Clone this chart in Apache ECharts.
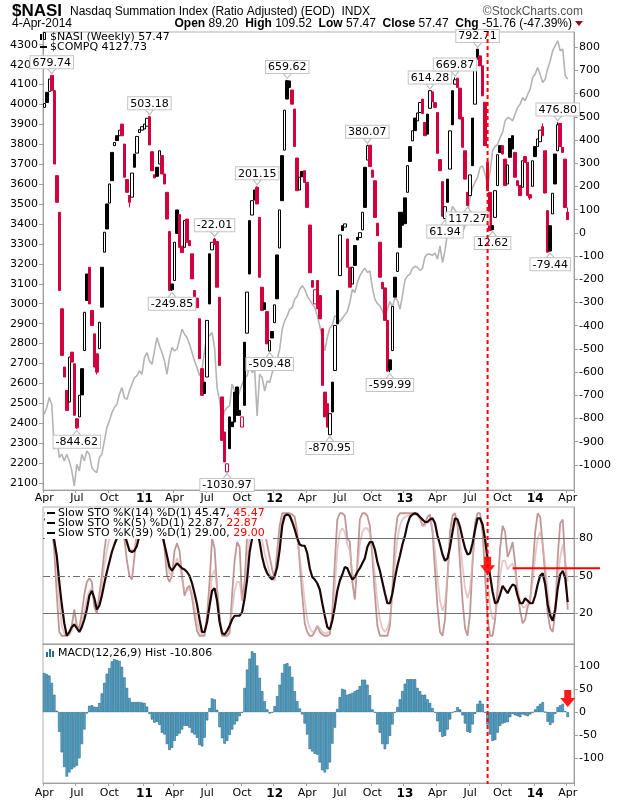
<!DOCTYPE html>
<html><head><meta charset="utf-8">
<script src="https://cdn.jsdelivr.net/npm/echarts@6/dist/echarts.min.js"></script>
<style>html,body{margin:0;padding:0;background:#fff}#c{width:620px;height:800px}</style>
</head><body><div id="c"></div>
<script>
// ---------- DATA ----------
const startDate = '2010-04-02'; // first weekly bar (Fri)
const padWeeks = 2;            // empty slots at right edge
const opens = [541,606,610,679,613,247,89,-327,-578,-679,
-729,-514,-564,-801,-793,-585,-507,-177,-148,-334,
-435,-521,-499,-148,-83,125,129,347,376,419,
419,469,383,230,161,154,340,344,433,443,
448,460,501,350,251,283,297,333,254,175,
6,-220,-205,99,79,-57,-62,60,-33,-90,
-248,-281,-370,-585,-643,-621,-90,-73,-26,-37,
-277,-707,-858,-1030,-793,-815,-686,-664,-765,-837,
-471,-432,53,77,185,197,67,-234,-301,-339,
-509,-425,-387,-95,-65,333,357,656,655,616,
534,323,185,265,268,218,34,-205,-306,-205,
-270,-413,-686,-736,-870,-643,-593,-248,-184,31,
25,-26,-148,-220,-54,-19,-20,13,283,314,
378,271,225,42,-40,-213,-237,-377,-547,-507,
-191,-166,89,89,151,175,372,397,495,483,
519,577,476,512,537,608,562,519,316,221,
62,232,275,613,641,667,624,498,354,175,
161,495,555,792,763,720,563,304,175,32,
67,204,376,376,318,211,407,419,347,225,
204,197,329,304,165,201,372,372,393,458,
354,96,31,82,340,354,472,369,318,89.20];
const closes = [558,562,663,613,297,132,-248,-528,-621,-765,
-535,-557,-786,-840,-700,-698,-342,-291,-306,-399,
-578,-600,-385,-320,3,17,211,225,390,398,
443,419,240,175,132,258,283,416,445,458,
469,494,379,268,237,244,354,254,211,60,
-248,-245,-40,-2,-62,-85,53,-40,-55,-198,
-320,-322,-542,-700,-692,-377,-306,-40,-50,-234,
-571,-894,-987,-995,-930,-835,-815,-786,-786,-793,
-743,-255,-177,139,142,125,-191,-334,-330,-478,
-464,-453,-310,-284,99,139,529,577,627,555,
372,182,240,242,218,110,-172,-234,-245,-327,
-370,-657,-793,-837,-779,-772,-399,-392,-9,10,
39,-148,-234,-148,-140,-30,1,89,110,376,
286,240,67,-12,-191,-241,-377,-596,-590,-317,
-277,-86,-62,33,40,290,308,440,441,517,
562,515,419,426,613,565,541,343,268,72,
113,132,440,466,660,627,491,369,232,118,
250,290,716,749,720,591,376,182,10,14,
182,337,347,340,204,293,326,362,240,204,
161,311,304,161,150,311,329,405,443,419,
172,-83,-78,171,211,466,372,347,109.23,57.47];
const lows = [541,562,610,613,297,132,-248,-528,-621,-765,
-729,-557,-786,-844.62,-793,-698,-507,-291,-306,-399,
-578,-610,-499,-320,-83,17,129,225,376,398,
419,419,240,175,110,154,283,344,433,443,
448,460,379,268,237,244,297,254,211,60,
-248,-249.85,-205,-2,-62,-85,-62,-40,-55,-198,
-320,-322,-542,-700,-692,-621,-306,-73,-50,-234,
-571,-894,-987,-1030.97,-930,-835,-815,-786,-786,-837,
-743,-432,-177,77,142,125,-191,-334,-330,-478,
-509.48,-453,-387,-284,-65,139,357,577,627,555,
372,182,185,242,218,110,-172,-234,-306,-327,
-370,-657,-793,-837,-870.95,-772,-593,-392,-184,10,
25,-148,-234,-220,-140,-30,-20,13,110,314,
286,240,67,-12,-191,-241,-377,-596,-599.99,-507,
-277,-166,-62,33,40,175,308,397,441,483,
519,515,419,426,537,565,541,343,268,72,
61.94,132,275,466,641,627,491,369,232,117.27,
161,290,555,749,720,591,376,182,10,12.62,
67,204,347,340,204,211,326,362,240,204,
161,197,304,161,142,201,329,372,393,419,
172,-83,-79.44,82,211,354,372,347,109.23,57.47];
const highs = [558,606,663,679.74,613,247,89,-327,-578,-679,
-535,-514,-564,-801,-700,-585,-342,-177,-148,-334,
-435,-521,-385,-148,3,125,211,347,390,419,
443,469,383,230,161,258,340,416,445,458,
469,494,503.18,350,251,283,354,333,254,175,
6,-220,-40,99,79,-57,53,60,-33,-90,
-248,-281,-370,-585,-643,-377,-90,-40,-22.01,-37,
-277,-707,-858,-995,-793,-815,-686,-664,-765,-793,
-471,-255,53,139,185,201.15,67,-234,-301,-339,
-464,-425,-310,-95,99,333,529,659.62,655,616,
534,323,240,265,268,218,34,-205,-245,-205,
-270,-413,-686,-736,-779,-643,-399,-248,-9,31,
39,-26,-148,-148,-54,-19,1,89,283,380.07,
378,271,225,42,-40,-213,-237,-377,-547,-317,
-191,-86,89,89,151,290,372,440,495,517,
562,577,476,512,614.28,608,562,519,316,221,
113,232,440,613,669.87,667,624,498,354,175,
250,495,716,792.71,763,720,563,304,175,32,
182,337,376,376,318,293,407,419,347,225,
204,311,329,304,165,311,372,405,443,472,
354,96,31,171,340,476.80,472,369,318,109.52];
const compq = [2445,2479,2529,2495,2269,2328,2228,2244,2211,2244,
2211,2161,2085,2194,2161,2244,2211,2261,2244,2177,
2161,2152,2228,2244,2311,2378,2412,2453,2479,2495,
2546,2579,2529,2520,2562,2596,2629,2638,2663,2646,
2730,2755,2713,2696,2763,2830,2788,2755,2713,2646,
2730,2780,2763,2772,2822,2872,2847,2830,2797,2755,
2713,2680,2638,2671,2763,2847,2839,2855,2780,2579,
2512,2412,2462,2479,2487,2596,2562,2520,2562,2596,
2629,2638,2688,2654,2671,2437,2646,2629,2562,2613,
2604,2654,2683,2721,2772,2872,2914,2939,2972,2981,
3023,3039,3073,3090,3073,3039,3018,2998,2981,2939,
2889,2830,2763,2830,2877,2894,2939,2934,2909,2927,
2944,2961,3006,3073,3056,3106,3140,3162,3178,3157,
3165,3081,3023,3001,2989,2964,2934,2972,3011,2984,
3028,3018,2972,3039,3118,3140,3148,3177,3188,3182,
3168,3178,3235,3249,3249,3242,3255,3224,3290,3207,
3265,3357,3441,3488,3470,3450,3408,3357,3391,3450,
3533,3583,3610,3634,3684,3692,3650,3600,3659,3768,
3790,3801,3835,3860,3918,3935,3930,3918,3952,3985,
4002,4035,4019,4050,4077,4136,4153,4186,4150,4111,
4127,4180,4220,4270,4295,4320,4270,4278,4144,4127.73];
const stoK39 = [95,95,92,87,78,66,45,27,12,2,
5,9,11,8,5,9,15,23,34,38,
32,23,26,34,44,53,61,69,75,80,
85,87,83,77,70,69,70,74,82,88,
92,94,95,95,94,92,90,84,75,66,
57,54,57,60,58,56,55,53,50,44,
36,27,15,5,5,13,26,38,40,30,
13,4,3,6,10,15,18,18,18,21,
32,47,69,80,85,85,77,65,57,52,
49,47,50,57,71,90,98,99,98,93,
87,80,75,74,74,68,56,49,47,44,
39,28,18,9,7,14,25,38,46,51,
57,56,51,47,49,53,56,60,64,73,
77,77,71,61,54,45,36,28,28,36,
48,58,66,75,82,91,97,99,100,99,
97,95,93,93,95,96,92,82,75,67,
62,64,73,85,96,95,89,80,72,67,
68,76,87,96,96,91,79,64,50,37,
28,29,35,42,39,36,40,43,42,34,
28,28,32,30,28,28,34,43,50,52,
43,27,18,14,23,40,51,54,48,29];
const stoK14 = [98,98,96,92,80,60,30,10,4,2,
3,6,12,8,6,12,22,32,38,40,
30,24,30,42,58,70,80,88,92,95,
96,94,85,75,72,70,72,82,92,96,
98,98,98,98,97,95,92,86,75,62,
52,50,58,64,60,48,38,38,40,36,
25,14,6,3,4,15,32,50,55,40,
18,5,3,4,8,22,38,45,45,30,
38,62,82,92,94,93,88,78,68,60,
52,48,46,60,80,94,98,99,98,95,
90,80,65,48,30,15,8,5,6,10,
8,5,4,4,6,15,40,70,85,88,
85,75,70,52,45,55,75,85,88,88,
84,70,50,30,15,8,5,8,15,35,
60,80,90,95,97,98,99,99,99,98,
95,90,90,93,95,88,70,48,30,22,
28,50,75,90,96,92,78,58,40,32,
40,62,85,95,96,88,70,45,25,15,
18,30,50,62,62,55,58,60,52,40,
30,25,25,28,32,45,65,80,85,75,
58,38,22,15,22,45,65,75,62,45.47];
const stoK5 = [100,100,95,90,70,35,5,2,2,2,
3,10,23,10,8,20,35,45,48,45,
25,20,35,50,70,85,95,99,100,100,
100,95,80,62,50,47,65,88,98,100,
100,100,100,100,99,97,95,88,72,50,
45,50,70,76,70,50,34,40,42,33,
18,6,2,2,2,18,45,80,72,40,
15,2,2,2,4,35,62,77,73,30,
45,82,98,100,100,100,98,95,85,75,
65,55,47,70,90,100,100,100,100,99,
97,85,60,35,12,5,2,2,5,10,
5,3,2,2,3,20,60,95,100,100,
98,80,77,45,31,60,95,100,100,98,
90,65,35,10,2,2,2,2,10,40,
80,97,100,100,100,100,100,100,100,100,
97,90,92,97,99,85,55,25,5,2,
15,50,85,98,100,90,60,30,8,2,
20,60,92,100,100,85,50,15,2,2,
15,40,72,90,85,65,70,77,60,35,
22,12,15,25,30,55,85,100,97,75,
50,20,8,5,20,65,92,95,60,22.87];
const macdHist = [85.5,83,80,64,38,3,-43,-88,-120,-141,
-132,-125,-121,-117,-101,-70,-38,-3,14,15,
12,11,20,41,64,84,96,111,116,114,
112,99,76,53,31,22,22,22,22,21,
20,12,-4,-16,-23,-21,-28,-45,-49,-70,
-83,-78,-63,-52,-47,-38,-30,-30,-34,-45,
-49,-56,-72,-75,-56,-18,9,30,28,5,
-33,-57,-69,-63,-50,-38,-27,-20,-9,-1,
53,93,117,133,129,102,75,46,24,6,
-3,-1,13,35,60,86,105,107,100,77,
46,24,8,-5,-25,-49,-81,-86,-91,-93,
-110,-127,-132,-125,-110,-69,-34,7,33,51,
49,38,40,42,46,49,57,71,71,60,
37,6,-1,-27,-45,-70,-81,-70,-52,-27,
-1,11,28,46,62,72,72,72,72,53,
46,38,38,28,20,9,-1,-20,-43,-54,
-52,-38,-16,-1,2,11,6,-7,-25,-43,
-45,-27,-4,18,25,18,-1,-27,-49,-63,
-61,-45,-30,-25,-23,-22,-11,-4,-7,-9,
-11,-5,-7,-9,-5,-1,6,13,18,22,
0,-21,-28,-23,-4,11,15,18,2,-10.806];
// annotated highs / lows: [bar index, value, side]
const peakIdx  = [3,13,42,51,68,73,85,90,97,114,129,138,154,160,164,169,173,179,202,205];
const peakVal  = [679.74,-844.62,503.18,-249.85,-22.01,-1030.97,201.15,-509.48,659.62,-870.95,380.07,-599.99,614.28,61.94,669.87,117.27,792.71,12.62,-79.44,476.80];
const peakSide = ['h','l','h','l','h','l','h','l','h','l','h','l','h','l','h','l','h','l','l','h'];
const leftTicks  = [2100,2200,2300,2400,2500,2600,2700,2800,2900,3000,3100,3200,3300,3400,3500,3600,3700,3800,3900,4000,4100,4200,4300];
const rightTicks = [-1000,-900,-800,-700,-600,-500,-400,-300,-200,-100,0,100,200,300,400,500,600,700,800];
const stoTicks = [20,50,80];
const macdTicks = [-100,-50,0,50,100];
const markerIdx = 177;       // vertical dashed marker
const stoArrow = [177, 58];
const macdArrow = [209, 30];
const stoRedLine = {from:187, value:56};
const monthNames = ['Jan','Feb','Mar','Apr','May','Jun','Jul','Aug','Sep','Oct','Nov','Dec'];

// ---------- BUILD ----------
const cats = [];
(function(){ const d0 = Date.parse(startDate+'T00:00:00Z');
  for (let i=0;i<closes.length+padWeeks;i++){ cats.push(new Date(d0+i*7*864e5).toISOString().slice(0,10)); } })();
function mon(i){ return +cats[i].slice(5,7)-1; }
function isQ(i){ if(i>=cats.length) return false; const m=mon(i); if(m%3!==0) return false; if(i===0) return true; return mon(i-1)!==m; }
function fmtX(val){ const m=+val.slice(5,7)-1; if(m===0) return '{y|'+val.slice(2,4)+'}'; return monthNames[m]; }

const RED = '#d2003c';
const FONT = 'DejaVu Sans';
const candleData = opens.map((o,i)=>{
  const c = closes[i]; const up = i===0 || c >= closes[i-1];
  const col = up ? '#000' : RED; const fill = c > o ? '#fff' : col;
  return {value:[o,c,lows[i],highs[i]], itemStyle:{color:fill,color0:fill,borderColor:col,borderColor0:col}};
});
const peakData = peakIdx.map((ix,k)=>{
  const hi = peakSide[k]==='h';
  return {coord:[ix, peakVal[k]], value:peakVal[k],
    symbol:'triangle', symbolSize:[8,5], symbolRotate: hi?180:0, symbolOffset:[0, hi?-4:4],
    itemStyle:{color:'#fff', borderColor:'#bdbdbd', borderWidth:1},
    label:{show:true, position: hi?'top':'bottom', distance:0, formatter: peakVal[k].toFixed(2),
      color:'#000', fontSize:11, fontFamily:FONT, backgroundColor:'#fff', borderColor:'#c4c4c4', borderWidth:1, padding:[1,2,0,2]}};
});

function xAxisCfg(g, show, margin){ return {type:'category', gridIndex:g, data:cats, boundaryGap:true,
  axisLine:{show:true, onZero:false, lineStyle:{color:'#a0a0a0'}},
  axisTick:{show:show, interval:(i)=>isQ(i), length:3, lineStyle:{color:'#a0a0a0'}},
  axisLabel:{show:show, interval:(i)=>isQ(i), formatter:fmtX, color:'#000', fontSize:11, fontFamily:FONT, margin:margin,
    rich:{y:{fontWeight:'bold', fontSize:12, fontFamily:FONT, color:'#000'}}},
  splitLine:{show:false}}; }
function yAxisCfg(g, pos, min, max, ticks){ return {type:'value', gridIndex:g, position:pos, min:min, max:max, scale:true,
  axisLine:{show:true, onZero:false, lineStyle:{color:'#a0a0a0'}},
  axisTick:{show:true, length:4, customValues:ticks, lineStyle:{color:'#a0a0a0'}},
  axisLabel:{show:true, customValues:ticks, formatter:(v)=>String(v), color:'#000', fontSize:11, fontFamily:FONT, margin:5},
  splitLine:{show:false}}; }

const ARROW = 'path://M4,0L11,0L11,8L15,8L7.5,17L0,8L4,8Z';
const option = {
  animation:false, backgroundColor:'#fff',
  grid:[
    {left:43, right:46, top:32, height:458, show:true, borderColor:'#b0b0b0', borderWidth:1},
    {left:43, right:46, top:507, height:137, show:true, borderColor:'#b0b0b0', borderWidth:1},
    {left:43, right:46, top:644, height:140, show:true, borderColor:'#b0b0b0', borderWidth:1}
  ],
  xAxis:[ xAxisCfg(0,true,3), xAxisCfg(1,false,3), xAxisCfg(2,true,5) ],
  yAxis:[
    yAxisCfg(0,'left',2065,4364,leftTicks),
    yAxisCfg(0,'right',-1108,866,rightTicks),
    yAxisCfg(1,'right',-4.6,105,stoTicks),
    yAxisCfg(2,'right',-155,149,macdTicks)
  ],
  series:[
    {type:'line', name:'$COMPQ', xAxisIndex:0, yAxisIndex:0, data:compq, symbol:'none', z:1,
      lineStyle:{color:'#b4b4b4', width:1.6}},
    {type:'candlestick', name:'$NASI', xAxisIndex:0, yAxisIndex:1, data:candleData, barWidth:3, z:3,
      itemStyle:{borderWidth:1},
      markPoint:{data:peakData, silent:true, z:5}},
    {type:'line', name:'K5', xAxisIndex:1, yAxisIndex:2, data:stoK5, symbol:'none', z:2,
      lineStyle:{color:'rgba(150,80,80,0.6)', width:1.8},
      markLine:{silent:true, symbol:'none', label:{show:false},
        data:[{yAxis:80, lineStyle:{color:'#707070', width:1, type:'solid'}},
              {yAxis:20, lineStyle:{color:'#707070', width:1, type:'solid'}},
              {yAxis:50, lineStyle:{color:'#707070', width:1, type:[7,3,2,3]}}]}},
    {type:'line', name:'K14', xAxisIndex:1, yAxisIndex:2, data:stoK14, symbol:'none', z:3,
      lineStyle:{color:'rgba(220,175,175,0.7)', width:1.8}},
    {type:'line', name:'K39', xAxisIndex:1, yAxisIndex:2, data:stoK39, symbol:'none', z:4,
      lineStyle:{color:'#1c0606', width:2.2},
      markPoint:{silent:true, data:[{coord:stoArrow, symbol:ARROW, symbolSize:[15,18], itemStyle:{color:'#ff1a1a'}, label:{show:false}}]}},
    {type:'bar', name:'MACD Hist', xAxisIndex:2, yAxisIndex:3, data:macdHist, barCategoryGap:'0%', z:2,
      itemStyle:{color:'#5aaad0', borderColor:'#1e5f7e', borderWidth:0.6},
      markPoint:{silent:true, data:[{coord:macdArrow, symbol:ARROW, symbolSize:[15,17], itemStyle:{color:'#ff1a1a'}, label:{show:false}}]}}
  ]
};
const chart = echarts.init(document.getElementById('c'));
chart.setOption(option);

// ---------- overlays positioned through the axes ----------
const xm = chart.convertToPixel({xAxisIndex:0}, markerIdx);
const xr = chart.convertToPixel({xAxisIndex:1}, stoRedLine.from);
const yr = chart.convertToPixel({yAxisIndex:2}, stoRedLine.value);
const T = (x,y,text,extra)=>Object.assign({type:'text', x:x, y:y, z:50, style:Object.assign({text:text, fontSize:11, fontFamily:FONT, fill:'#000', verticalAlign:'middle'}, extra||{})});
const graphics = [
  T(12,11,'$NASI',{fontSize:17, fontWeight:'bold', fontFamily:'Liberation Sans'}),
  T(70,12,'Nasdaq Summation Index (Ratio Adjusted) (EOD)  INDX',{fontSize:12, fontFamily:'Liberation Sans'}),
  T(583,12,'©StockCharts.com',{fontSize:12, fontFamily:'Liberation Sans', fill:'#555', align:'right'}),
  T(12,24,'4-Apr-2014',{fontSize:12, fontFamily:'Liberation Sans'}),
  T(572,24,'{b|Open} 89.20  {b|High} 109.52  {b|Low} 57.47  {b|Close} 57.47  {b|Chg} -51.76 (-47.39%)',
    {fontSize:12, fontFamily:'Liberation Sans', align:'right', rich:{b:{fontWeight:'bold', fontSize:12, fontFamily:'Liberation Sans'}}}),
  {type:'polygon', z:50, shape:{points:[[575,21],[583,21],[579,26]]}, style:{fill:'#a00020'}},
  // main legend
  {type:'rect', z:50, shape:{x:40,y:34,width:2,height:6}, style:{fill:'#000'}},
  {type:'rect', z:50, shape:{x:43.5,y:32.5,width:2,height:7}, style:{fill:'#fff', stroke:'#000', lineWidth:1}},
  T(50,37,'$NASI (Weekly) 57.47'),
  {type:'line', z:50, shape:{x1:40,y1:47,x2:47,y2:47}, style:{stroke:'#000', lineWidth:2}},
  T(50,47,'$COMPQ 4127.73'),
  // STO legend
  {type:'rect', z:49, shape:{x:45,y:508,width:228,height:31}, style:{fill:'#fff'}},
  {type:'line', z:50, shape:{x1:47,y1:513,x2:55,y2:513}, style:{stroke:'#000', lineWidth:2}},
  T(58,513,'Slow STO %K(14) %D(1) 45.47, {r|45.47}',{rich:{r:{fill:'#ff0000', fontSize:11, fontFamily:FONT}}}),
  {type:'line', z:50, shape:{x1:47,y1:523,x2:55,y2:523}, style:{stroke:'#000', lineWidth:2}},
  T(58,523,'Slow STO %K(5) %D(1) 22.87, {r|22.87}',{rich:{r:{fill:'#ff0000', fontSize:11, fontFamily:FONT}}}),
  {type:'line', z:50, shape:{x1:47,y1:533,x2:55,y2:533}, style:{stroke:'#000', lineWidth:2}},
  T(58,533,'Slow STO %K(39) %D(1) 29.00, {r|29.00}',{rich:{r:{fill:'#ff0000', fontSize:11, fontFamily:FONT}}}),
  // MACD legend
  {type:'rect', z:50, shape:{x:46,y:652,width:2,height:5}, style:{fill:'#2b6e8e'}},
  {type:'rect', z:50, shape:{x:49,y:649,width:2,height:8}, style:{fill:'#2b6e8e'}},
  {type:'rect', z:50, shape:{x:52,y:651,width:2,height:6}, style:{fill:'#2b6e8e'}},
  T(58,653,'MACD(12,26,9) Hist -10.806',{backgroundColor:'#fff'}),
  // red annotations
  {type:'line', z:60, shape:{x1:xm,y1:32,x2:xm,y2:784}, style:{stroke:'#ff0000', lineWidth:2, lineDash:[4,3]}},
  {type:'line', z:60, shape:{x1:xr,y1:yr,x2:600,y2:yr}, style:{stroke:'#ff0000', lineWidth:2}}
];
chart.setOption({graphic:graphics});
</script></body></html>
